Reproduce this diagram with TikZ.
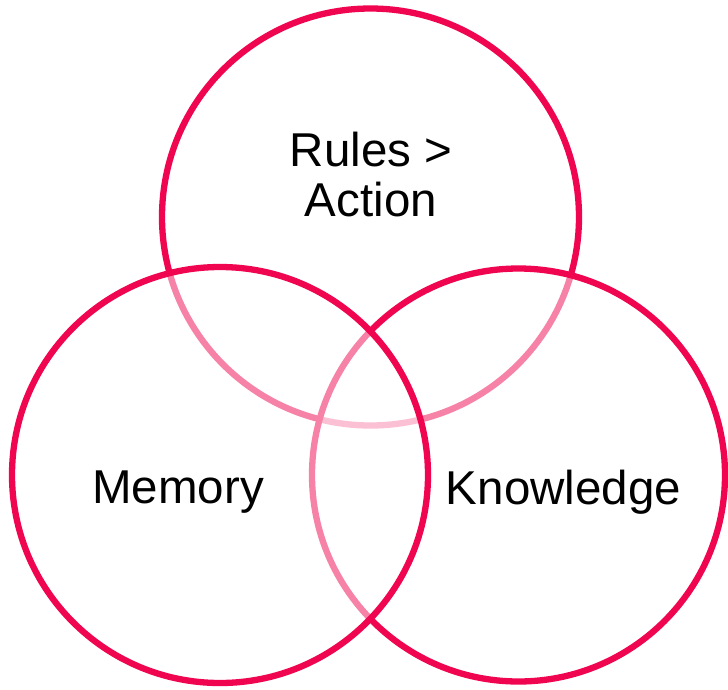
\documentclass[tikz,border=0pt]{standalone}
\usepackage{fontspec}
\setmainfont{Liberation Sans}
\definecolor{ringred}{RGB}{240,5,80}
\begin{document}
\begin{tikzpicture}[x=1pt,y=-1pt,
  ring/.style={draw=ringred,line width=6.3pt,fill=white,fill opacity=0.5,draw opacity=1},
  lbl/.style={font=\fontsize{47.5}{50}\selectfont,align=center,text=black}]
\useasboundingbox (0,0) rectangle (728,689);
\draw[ring] (370.5,217) circle (208.5);
\draw[ring] (518.5,475) circle (206.5);
\draw[ring] (220,475) circle (208);
\node[lbl] (rules) at (371,175) {Rules >\\Action};
\node[lbl] (memory) at (178,492) {Memory};
\node[lbl] (knowledge) at (563.5,492) {Knowledge};
\end{tikzpicture}
\end{document}
